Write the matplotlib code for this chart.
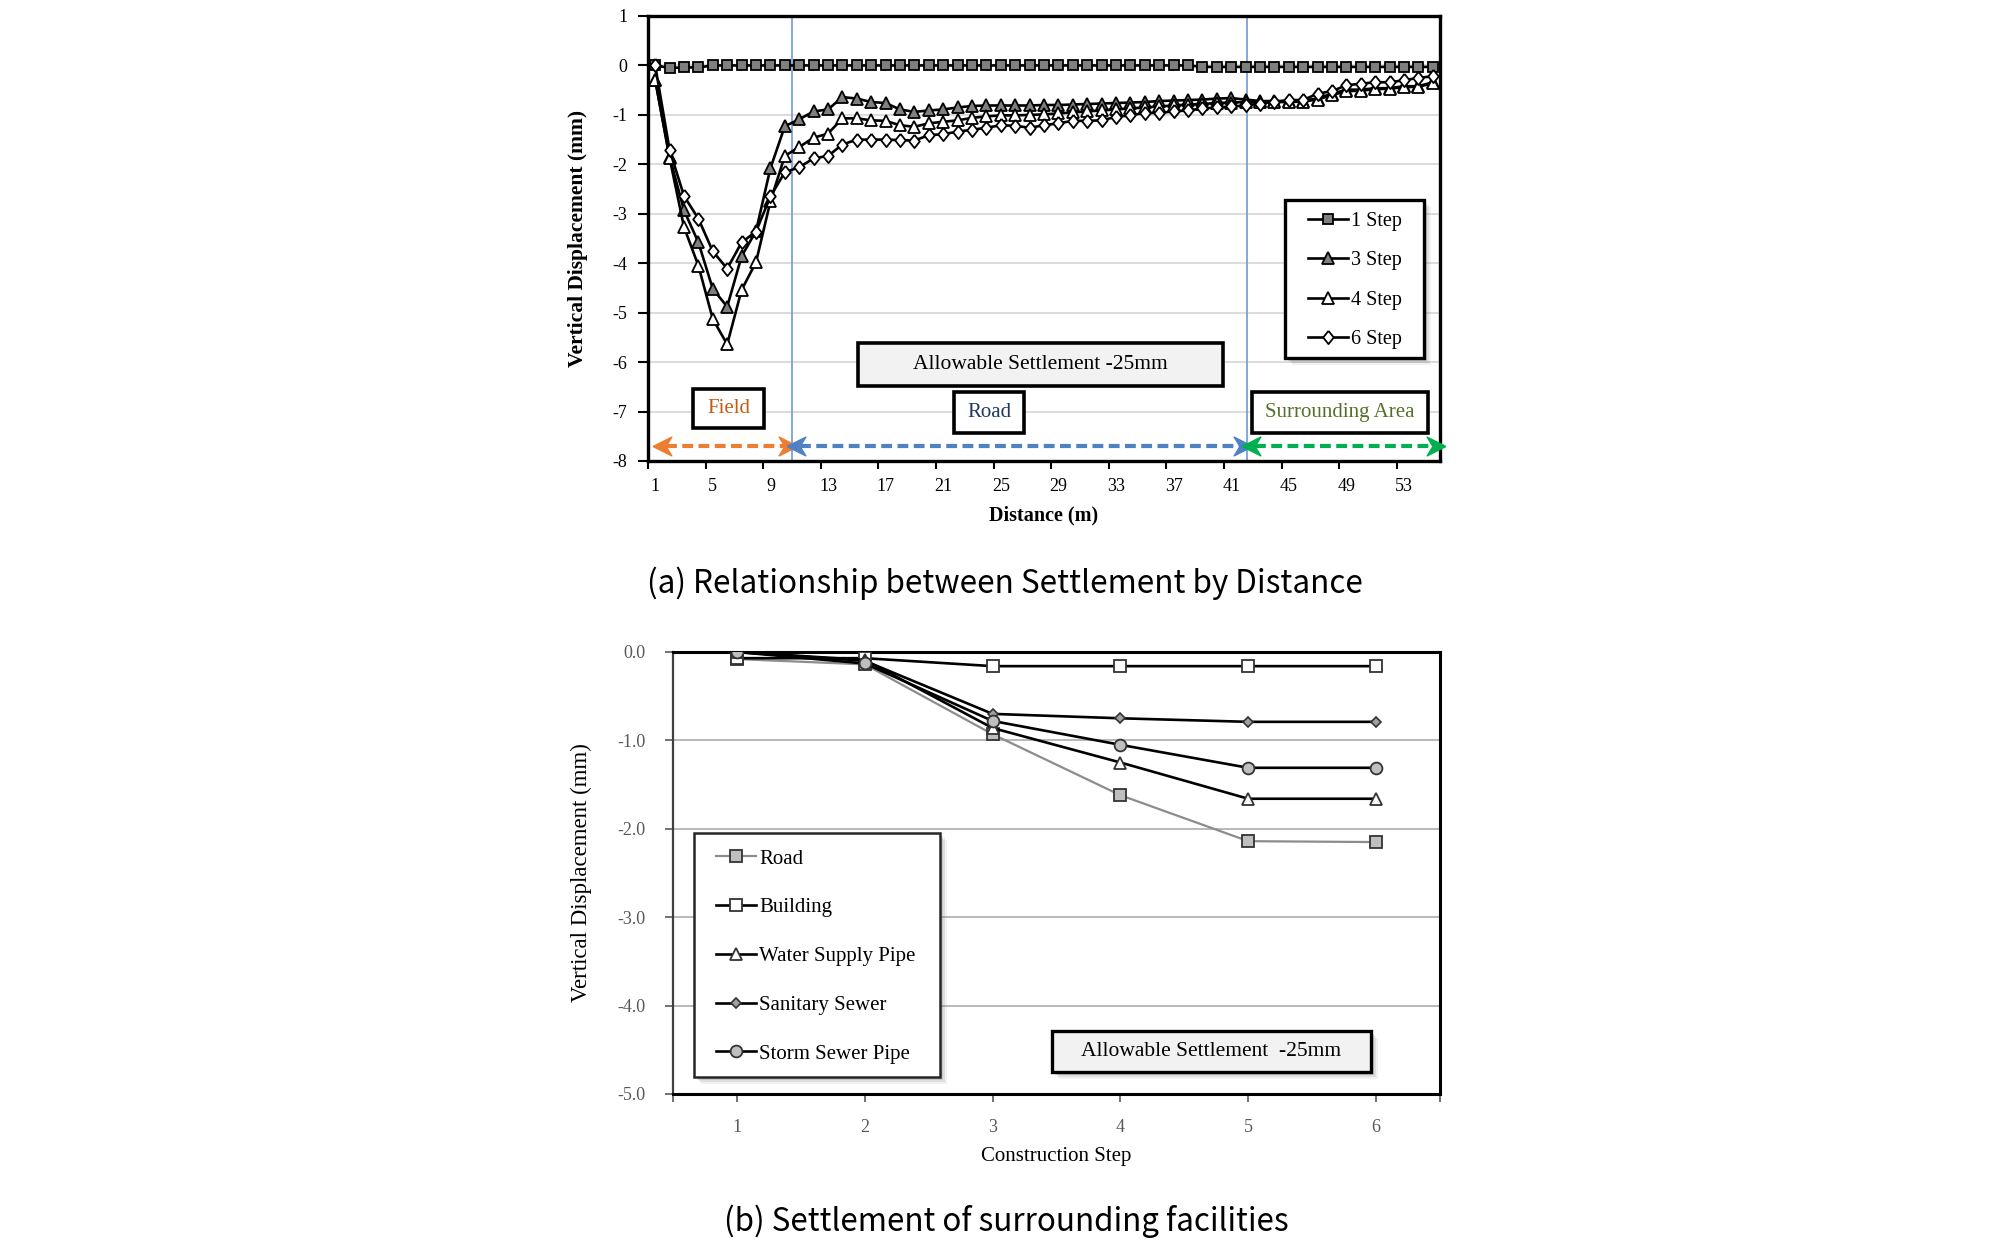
import matplotlib
matplotlib.use("Agg")
import matplotlib.pyplot as plt
from matplotlib.patches import Rectangle
import numpy as np

plt.rcParams['font.family'] = ['Liberation Serif', 'DejaVu Serif']
plt.rcParams['axes.unicode_minus'] = False

# ---------------- data: (a) settlement by distance ----------------
distance = list(range(1, 56))
xtick_labels_a = [str(v) for v in range(1, 54, 4)]
one_step = [0.0, -0.05, -0.04, -0.04] + [0.0] * 34 + [-0.03] * 17
three_step = [-0.29, -1.85, -2.93, -3.58, -4.52, -4.88, -3.86, -3.35, -2.08, -1.23,
              -1.09, -0.93, -0.89, -0.64, -0.67, -0.74, -0.76, -0.89, -0.94, -0.91,
              -0.89, -0.85, -0.82, -0.81, -0.81, -0.81, -0.81, -0.80, -0.80, -0.79,
              -0.78, -0.77, -0.76, -0.75, -0.74, -0.72, -0.71, -0.70, -0.69, -0.67,
              -0.66, -0.69, -0.72, -0.72, -0.72, -0.71, -0.67, -0.57, -0.49, -0.49,
              -0.46, -0.46, -0.42, -0.42, -0.34]
four_step = [-0.29, -1.87, -3.27, -4.05, -5.13, -5.64, -4.54, -3.98, -2.75, -1.83,
             -1.65, -1.46, -1.38, -1.07, -1.07, -1.11, -1.12, -1.21, -1.24, -1.17,
             -1.14, -1.11, -1.06, -1.03, -1.01, -1.01, -1.00, -0.99, -0.97, -0.95,
             -0.93, -0.91, -0.89, -0.87, -0.85, -0.83, -0.81, -0.79, -0.78, -0.76,
             -0.75, -0.74, -0.74, -0.74, -0.74, -0.73, -0.69, -0.60, -0.52, -0.51,
             -0.48, -0.47, -0.44, -0.43, -0.36]
six_step = [0.0, -1.71, -2.64, -3.10, -3.76, -4.11, -3.58, -3.36, -2.65, -2.16,
            -2.06, -1.88, -1.83, -1.60, -1.50, -1.50, -1.50, -1.51, -1.52, -1.41,
            -1.39, -1.34, -1.30, -1.26, -1.21, -1.22, -1.26, -1.21, -1.17, -1.12,
            -1.12, -1.11, -1.04, -1.01, -0.96, -0.96, -0.93, -0.91, -0.87, -0.85,
            -0.83, -0.81, -0.77, -0.74, -0.70, -0.70, -0.57, -0.52, -0.40, -0.37,
            -0.34, -0.34, -0.30, -0.25, -0.22]
zone_bounds = [1.2, 10.5, 42.1, 55.5]      # Field | Road | Surrounding Area
zone_names = ["Field", "Road", "Surrounding Area"]

# ---------------- data: (b) surrounding facilities ----------------
steps = [1, 2, 3, 4, 5, 6]
road = [-0.08, -0.14, -0.93, -1.62, -2.14, -2.15]
building = [-0.07, -0.07, -0.16, -0.16, -0.16, -0.16]
water_supply = [0.0, -0.09, -0.86, -1.25, -1.66, -1.66]
sanitary_sewer = [0.0, -0.10, -0.70, -0.75, -0.79, -0.79]
storm_sewer = [0.0, -0.13, -0.78, -1.05, -1.31, -1.31]

W, H = 2008, 1243
fig = plt.figure(figsize=(W / 100, H / 100), dpi=100)


def fx(x):
    return x / W


def fy(y):
    return 1 - y / H


def frame(ax, x0, y0, x1, y1, fc='white', lw=2.6, ec='black', shadow=False):
    if shadow:
        for off, a in ((7, 0.08), (5, 0.12), (3, 0.18)):
            ax.add_patch(Rectangle((fx(x0 + off), fy(y1 + off)), (x1 - x0) / W, (y1 - y0) / H,
                                   transform=fig.transFigure, fc='0.35', ec='none', alpha=a,
                                   clip_on=False, zorder=6))
    ax.add_patch(Rectangle((fx(x0), fy(y1)), (x1 - x0) / W, (y1 - y0) / H,
                           transform=fig.transFigure, fc=fc, ec=ec, lw=lw,
                           clip_on=False, zorder=7))


def box(ax, x0, y0, x1, y1, text, color='black', fc='white', fs=15, lw=2.6, shadow=False):
    frame(ax, x0, y0, x1, y1, fc=fc, lw=lw, shadow=shadow)
    ax.text(fx((x0 + x1) / 2), fy((y0 + y1) / 2), text, transform=fig.transFigure,
            ha='center', va='center', fontsize=fs, color=color, zorder=8)


# =================== (a) ===================
ax1 = fig.add_axes([fx(648), fy(461), 792 / W, 445 / H])
ax1.set_xlim(0.5, 55.5)
ax1.set_ylim(-8, 1)
ax1.set_yticks(range(-8, 2))
ax1.set_yticklabels([str(v) for v in range(-8, 2)])
ax1.yaxis.grid(True, color='#d9d9d9', lw=1.3)
ax1.set_axisbelow(True)
ax1.set_xticks(np.arange(0.5, 53, 4))
ax1.set_xticklabels([])
ax1.set_xticks(range(1, 54, 4), minor=True)
ax1.set_xticklabels(xtick_labels_a, minor=True)
ax1.tick_params(axis='x', which='major', length=6, width=1.5, direction='out')
ax1.tick_params(axis='x', which='minor', length=0, pad=12, labelsize=13)
ax1.tick_params(axis='y', length=7, width=1.5, direction='out', pad=8, labelsize=13)
for s in ax1.spines.values():
    s.set_linewidth(2.4)
    s.set_color('black')

for xv in zone_bounds[1:3]:
    ax1.axvline(xv, color='#7ba3d6', lw=1.3, zorder=1.5)

mk_kw = dict(lw=1.9, color='black', mec='black', mew=1.3)
diamond = [(0, 1), (0.8, 0), (0, -1), (-0.8, 0), (0, 1)]
ax1.plot(distance, one_step, marker='s', ms=7.5, mfc='#7f7f7f', label='1 Step', zorder=3, **mk_kw)
ax1.plot(distance, three_step, marker='^', ms=8, mfc='#7f7f7f', label='3 Step', zorder=3, **mk_kw)
ax1.plot(distance, four_step, marker='^', ms=8, mfc='white', label='4 Step', zorder=3, **mk_kw)
ax1.plot(distance, six_step, marker=diamond, ms=9.5, mfc='white', label='6 Step', zorder=3, **mk_kw)

frame(ax1, 1285, 200, 1424, 358, lw=2.4, shadow=True)
leg1 = ax1.legend(loc='upper left', bbox_to_anchor=(fx(1308), fy(212)),
                  bbox_transform=fig.transFigure,
                  frameon=False, fontsize=14.5, borderpad=0,
                  labelspacing=1.0, handlelength=2.0, handletextpad=0.12,
                  borderaxespad=0)
leg1.set_zorder(9)

# zone arrows
arrow_y = -7.70
head_l = [(-1, 0), (0.8, 0.9), (0.25, 0), (0.8, -0.9), (-1, 0)]
head_r = [(-x, y) for x, y in head_l]
zone_colors = ['#ed7d31', '#4f81c4', '#00b050']
for i, c in enumerate(zone_colors):
    a, b = zone_bounds[i], zone_bounds[i + 1]
    pad = 0.55
    ax1.plot([a + pad, b - pad], [arrow_y, arrow_y], color=c, lw=3.0, dashes=(2.6, 1.3),
             solid_capstyle='butt', dash_capstyle='butt', zorder=4, clip_on=False)
    ax1.plot([a + 0.35], [arrow_y], marker=head_l, ms=15, color=c, mec=c, zorder=4, clip_on=False)
    ax1.plot([b - 0.35], [arrow_y], marker=head_r, ms=15, color=c, mec=c, zorder=4, clip_on=False)

box(ax1, 858, 343, 1223, 386, "Allowable Settlement -25mm", fc='#f2f2f2', fs=15.5)
box(ax1, 693, 389, 764, 428, zone_names[0], color='#c55a11', fs=15)
box(ax1, 954, 392, 1024, 433, zone_names[1], color='#1f3864', fs=15)
box(ax1, 1252, 392, 1428, 433, zone_names[2], color='#55702b', fs=15)

ax1.set_xlabel("Distance (m)", fontsize=14.5, fontweight='bold', labelpad=8)
ax1.set_ylabel("Vertical Displacement (mm)", fontsize=15.5, fontweight='bold')
ax1.yaxis.set_label_coords((588 - 648) / 792, 0.5)

fig.text(fx(1005), fy(583), "(a) Relationship between Settlement by Distance",
         ha='center', va='center', fontsize=22.7, family=['Noto Sans CJK KR', 'DejaVu Sans'])

# =================== (b) ===================
ax2 = fig.add_axes([fx(673), fy(1094), 767 / W, 442 / H])
ax2.set_xlim(0.5, 6.5)
ax2.set_ylim(-5, 0)
ax2.set_yticks(np.arange(-5, 0.5, 1.0))
ax2.set_yticklabels([f"{v:.1f}" for v in np.arange(-5, 0.5, 1.0)])
ax2.yaxis.grid(True, color='#a6a6a6', lw=1.1)
ax2.set_axisbelow(True)
ax2.set_xticks([0.5] + steps + [6.5])
ax2.set_xticklabels([''] + [str(s) for s in steps] + [''])
ax2.tick_params(axis='x', length=6, width=1.2, color='#595959', direction='out', pad=12,
                labelsize=13, labelcolor='#595959')
ax2.tick_params(axis='y', length=6, width=1.2, color='#595959', direction='out', pad=14,
                labelsize=13, labelcolor='#595959')
for k in ('top', 'right', 'bottom'):
    ax2.spines[k].set_linewidth(2.2)
    ax2.spines[k].set_color('black')
ax2.spines['left'].set_linewidth(1.6)
ax2.spines['left'].set_color('#404040')

ax2.plot(steps, road, marker='s', ms=8, color='#8c8c8c', lw=1.6, mfc='#bfbfbf', mec='#333333',
         mew=1.3, label='Road', zorder=3)
ax2.plot(steps, building, marker='s', ms=8, color='black', lw=1.9, mfc='white', mec='#333333',
         mew=1.3, label='Building', zorder=3)
ax2.plot(steps, water_supply, marker='^', ms=8.5, color='black', lw=1.9, mfc='white', mec='#333333',
         mew=1.3, label='Water Supply Pipe', zorder=3)
ax2.plot(steps, sanitary_sewer, marker='D', ms=5.5, color='black', lw=1.9, mfc='#a0a0a0', mec='#333333',
         mew=1.2, label='Sanitary Sewer', zorder=3)
ax2.plot(steps, storm_sewer, marker='o', ms=8.5, color='black', lw=1.9, mfc='#bfbfbf', mec='#333333',
         mew=1.3, label='Storm Sewer Pipe', zorder=3)

frame(ax2, 694, 833, 940, 1077, lw=1.8, ec='#262626', shadow=True)
leg2 = ax2.legend(loc='upper left', bbox_to_anchor=(fx(716), fy(849)),
                  bbox_transform=fig.transFigure,
                  frameon=False, fontsize=15, borderpad=0,
                  labelspacing=1.4, handlelength=1.9, handletextpad=0.18,
                  borderaxespad=0)
leg2.set_zorder(9)

box(ax2, 1052, 1031, 1371, 1072, "Allowable Settlement  -25mm", fc='#f2f2f2', fs=15.5, lw=2.4,
    shadow=True)

ax2.set_xlabel("Construction Step", fontsize=15, labelpad=8)
ax2.set_ylabel("Vertical Displacement (mm)", fontsize=16.5)
ax2.yaxis.set_label_coords((592 - 673) / 767, 0.5)

fig.text(fx(1006), fy(1221), "(b) Settlement of surrounding facilities",
         ha='center', va='center', fontsize=22.6, family=['Noto Sans CJK KR', 'DejaVu Sans'])

fig.savefig("out.png", dpi=100)
